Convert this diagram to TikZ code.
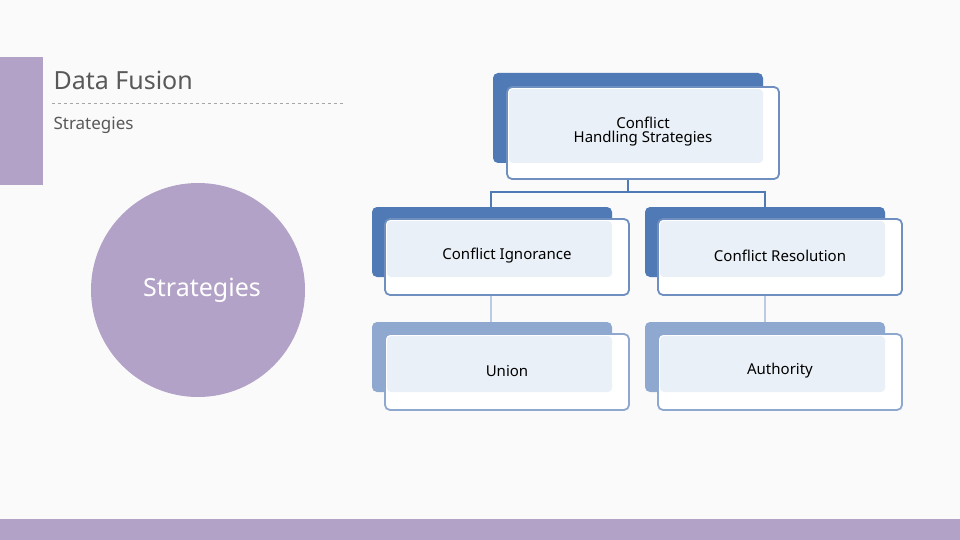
\documentclass[tikz,border=0pt]{standalone}
\usepackage{fontspec}
\setmainfont{Noto Sans}
\begin{document}
\begin{tikzpicture}[x=1pt,y=-1pt,
  back/.style={rounded corners=5pt},
  front/.style={draw=#1,line width=1.8pt,fill=white,rounded corners=5pt},
  inner/.style={fill=blue!3!gray!8,rounded corners=4pt},
  lab/.style={font=\fontsize{15}{17}\selectfont,text=black,align=center},
  conn/.style={draw=dblue,line width=1.8pt}]
\definecolor{purp}{HTML}{B3A2C7}
\definecolor{dblue}{HTML}{4F7AB5}
\definecolor{lblue}{HTML}{8EA8D0}
\definecolor{fblue}{HTML}{6E8FC0}
\definecolor{pblue}{HTML}{EAF0F7}
\useasboundingbox (0,0) rectangle (960,540);
\fill[gray!4] (0,0) rectangle (960,540);
\fill[purp] (0,57) rectangle (43,185);
\fill[purp] (0,519) rectangle (960,540);
\node[anchor=west,font=\fontsize{25}{28}\selectfont\bfseries,text=black!65] (t) at (50,80) {Data Fusion};
\draw[gray!70,dashed,line width=1pt] (52,104) -- (345,104);
\node[anchor=west,font=\fontsize{17}{20}\selectfont,text=black!65] (s) at (50,125) {Strategies};
\fill[purp] (198,290) circle (107);
\node[font=\fontsize{25}{28}\selectfont\bfseries,text=white] (c) at (202,290) {Strategies};
% connectors
\draw[conn] (628,179) -- (628,192) coordinate (m);
\draw[conn] (491,207) -- (491,192) -- (765,192) -- (765,207);
\draw[draw=lblue!60,line width=1.8pt] (491,295) -- (491,322);
\draw[draw=lblue!60,line width=1.8pt] (765,295) -- (765,322);
% top
\fill[dblue,back] (493,73) rectangle (763,163);
\draw[front=fblue] (507,87) rectangle (779,179);
\fill[pblue,rounded corners=4pt] (509,89) rectangle (763,163);
\node[lab] (top) at (643,132) {Conflict\\[-3pt]Handling Strategies};
% level 2
\foreach \x/\n/\t in {372/ci/Conflict Ignorance,645/cr/Conflict Resolution}{
 \fill[dblue,back] (\x,207) rectangle (\x+240,277);
 \draw[front=fblue] (\x+13,219) rectangle (\x+257,295);
 \fill[pblue,rounded corners=4pt] (\x+15,221) rectangle (\x+240,277);
 \node[lab] (\n) at (\x+135,256) {\t};
}
\foreach \x/\n/\t in {372/un/Union,645/au/Authority}{
 \fill[lblue,back] (\x,322) rectangle (\x+240,392);
 \draw[front=lblue] (\x+13,334) rectangle (\x+257,410);
 \fill[pblue,rounded corners=4pt] (\x+15,336) rectangle (\x+240,392);
 \node[lab] (\n) at (\x+135,371) {\t};
}
\end{tikzpicture}
\end{document}
